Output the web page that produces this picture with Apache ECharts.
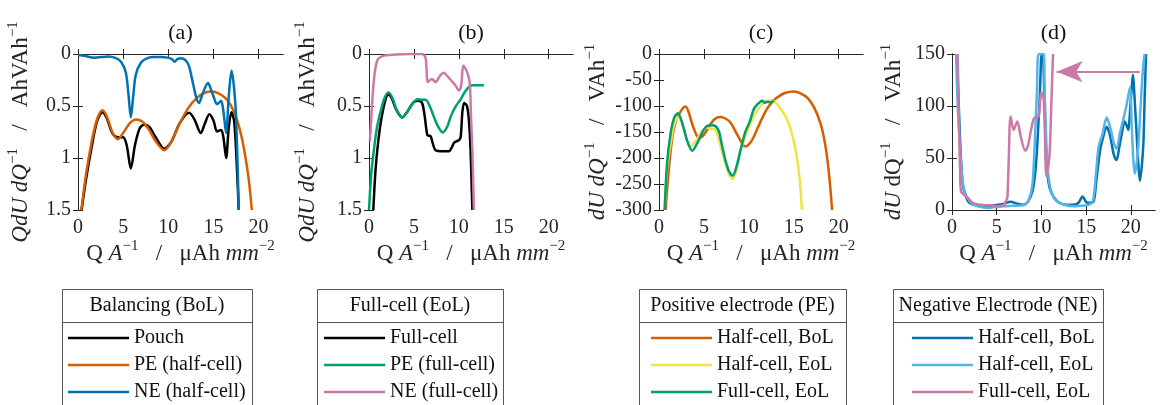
<!DOCTYPE html>
<html>
<head>
<meta charset="utf-8">
<script src="https://cdn.jsdelivr.net/npm/echarts@6/dist/echarts.min.js"></script>
<style>
  html, body { margin: 0; padding: 0; background: #fff; }
  #chart { width: 1176px; height: 405px; }
</style>
</head>
<body>
<div id="chart"></div>
<script>
// ---- data: [Q, value] ----
// (a) Balancing (BoL)
var pouchA = [[0.4,1.5],[0.9,1.2],[1.5,0.9],[2.1,0.65],[2.7,0.56],[3.2,0.62],[3.8,0.76],[4.4,0.8],[5.0,0.8],[5.4,0.88],[5.85,1.1],[6.3,0.88],[6.8,0.72],[7.3,0.68],[7.9,0.7],[8.6,0.8],[9.55,0.91],[10.3,0.85],[11.3,0.66],[12.3,0.565],[12.9,0.63],[13.6,0.76],[14.0,0.68],[14.55,0.58],[15.0,0.64],[15.4,0.745],[15.85,0.73],[16.1,0.8],[16.4,1.0],[16.7,0.7],[17.0,0.56],[17.3,0.65],[17.6,1.1],[17.8,1.5]];
var peHalfA = [[0.37,1.5],[0.9,1.15],[1.5,0.85],[2.1,0.63],[2.7,0.54],[3.2,0.6],[3.8,0.75],[4.4,0.82],[5.0,0.76],[5.7,0.67],[6.4,0.63],[7.1,0.65],[7.8,0.72],[8.6,0.84],[9.55,0.925],[10.3,0.85],[11.2,0.68],[12.2,0.52],[13.2,0.42],[14.1,0.37],[14.8,0.36],[15.6,0.38],[16.5,0.44],[17.3,0.56],[17.9,0.72],[18.4,0.92],[18.9,1.2],[19.25,1.5]];
var neHalfA = [[0,0.01],[0.8,0.02],[1.8,0.035],[2.6,0.03],[3.3,0.025],[4.2,0.04],[4.8,0.08],[5.3,0.18],[5.6,0.4],[5.85,0.61],[6.1,0.42],[6.4,0.2],[7.0,0.08],[7.7,0.04],[8.4,0.03],[9.2,0.03],[9.9,0.035],[10.4,0.05],[10.7,0.075],[11.0,0.05],[11.4,0.04],[11.9,0.06],[12.3,0.12],[12.7,0.27],[13.1,0.42],[13.4,0.47],[13.8,0.38],[14.4,0.28],[14.8,0.36],[15.1,0.43],[15.35,0.48],[15.6,0.47],[15.85,0.45],[16.1,0.55],[16.4,0.76],[16.7,0.4],[17.0,0.16],[17.25,0.3],[17.5,0.6],[17.8,1.5]];
// (b) Full-cell (EoL)
var fullB = [[0.48,1.5],[0.7,1.15],[0.93,0.92],[1.2,0.72],[1.5,0.565],[1.8,0.45],[2.1,0.39],[2.5,0.42],[3.0,0.53],[3.7,0.61],[4.3,0.55],[4.9,0.47],[5.4,0.45],[5.9,0.47],[6.2,0.6],[6.5,0.78],[6.85,0.79],[7.1,0.86],[7.4,0.925],[8.2,0.935],[8.9,0.935],[9.2,0.9],[9.5,0.85],[10.0,0.83],[10.2,0.8],[10.4,0.55],[10.6,0.47],[10.9,0.5],[11.1,0.62],[11.3,0.92],[11.5,1.5]];
var peFullB = [[0,1.5],[0.25,1.15],[0.55,0.92],[0.9,0.7],[1.3,0.55],[1.7,0.43],[2.15,0.37],[2.6,0.42],[3.1,0.54],[3.7,0.61],[4.3,0.55],[4.9,0.47],[5.4,0.435],[5.9,0.44],[6.3,0.44],[6.8,0.51],[7.2,0.6],[7.7,0.7],[8.2,0.755],[8.7,0.7],[9.1,0.6],[9.6,0.51],[10.2,0.435],[10.7,0.36],[11.2,0.31],[11.6,0.3],[12.0,0.3],[12.4,0.3],[12.8,0.3]];
var neFullB = [[0.1,0.84],[0.3,0.55],[0.55,0.25],[0.93,0.06],[1.67,0.016],[3.0,0.005],[4.5,0.0],[5.9,0.0],[6.3,0.04],[6.55,0.27],[7.0,0.24],[7.4,0.27],[7.9,0.21],[8.3,0.18],[8.7,0.21],[9.1,0.25],[9.6,0.3],[10.0,0.35],[10.26,0.3],[10.5,0.11],[10.85,0.16],[11.2,0.27],[11.35,0.6],[11.5,0.92],[11.67,1.5]];
// (c) Positive electrode (PE)
var halfBolC = [[0.74,-300],[1.1,-220],[1.5,-159],[1.9,-128],[2.5,-108],[2.96,-101],[3.3,-112],[3.8,-140],[4.45,-162],[5.0,-155],[5.7,-136],[6.2,-125],[6.8,-121],[7.4,-124],[8.0,-133],[8.8,-158],[9.6,-178],[10.1,-172],[10.55,-159],[11.3,-130],[12.0,-106],[12.6,-92],[13.1,-84],[14.0,-75],[15.0,-72],[15.8,-76],[16.5,-84],[17.3,-104],[17.96,-133],[18.4,-165],[18.7,-198],[19.0,-245],[19.26,-300]];
var halfEolC = [[0.63,-300],[0.9,-220],[1.3,-172],[1.7,-135],[2.2,-120],[2.7,-142],[3.5,-178],[4.2,-165],[4.8,-148],[5.37,-142],[5.9,-144],[6.3,-146],[6.9,-180],[7.4,-211],[7.9,-236],[8.2,-240],[8.6,-225],[9.07,-185],[9.8,-150],[10.55,-120],[11.3,-100],[12.0,-90],[12.5,-89],[12.96,-93],[13.6,-107],[14.26,-126],[14.9,-160],[15.4,-205],[15.7,-250],[15.9,-300]];
var fullEolC = [[0.63,-300],[0.9,-210],[1.3,-152],[1.7,-122],[2.1,-114],[2.5,-128],[2.8,-146],[3.2,-170],[3.7,-186],[4.3,-170],[4.9,-148],[5.37,-138],[5.9,-137],[6.3,-139],[6.67,-149],[7.0,-175],[7.4,-205],[7.8,-226],[8.2,-234],[8.6,-218],[9.07,-185],[9.6,-150],[10.1,-130],[10.55,-106],[11.0,-96],[11.5,-90],[11.8,-94],[12.0,-92],[12.4,-93],[12.8,-90]];
// (d) Negative Electrode (NE)
var halfBolD = [[0.55,150],[0.7,115],[0.8,90],[1.0,50],[1.2,25],[1.5,14],[1.9,7],[2.5,5],[3.2,3.6],[4.2,4],[5.1,5],[5.8,6],[6.55,8],[7.3,6],[8.0,5],[8.5,8],[9.0,18],[9.3,35],[9.5,57],[9.7,90],[9.8,106],[9.9,130],[10.0,150],[10.15,150],[10.33,106],[10.45,70],[10.6,41],[10.9,22],[11.4,12],[12.0,7],[12.85,5],[13.6,5],[14.15,7],[14.6,13],[14.9,9],[15.1,7],[15.8,8],[16.1,25],[16.55,57],[16.9,70],[17.3,80],[17.6,74],[17.85,64],[18.1,53],[18.4,48],[18.7,60],[19.0,74],[19.3,85],[19.5,82],[19.7,77],[19.95,100],[20.25,130],[20.4,110],[20.6,80],[20.8,50],[21.0,28],[21.2,40],[21.4,64],[21.55,110],[21.7,150]];
var halfEolD = [[0.45,150],[0.6,110],[0.8,74],[1.1,35],[1.4,18],[1.9,9],[2.5,4.6],[3.2,3],[4.0,2],[5.0,3],[5.8,3.6],[6.8,4],[8.0,4.6],[8.6,10],[9.0,25],[9.3,74],[9.5,115],[9.7,150],[10.26,150],[10.35,120],[10.45,90],[10.6,55],[10.8,31],[11.2,15],[11.7,8.5],[12.5,5],[13.6,3.6],[14.3,4],[15.1,4.6],[15.5,6],[15.8,10],[16.1,35],[16.4,61],[16.8,72],[17.3,89],[17.6,82],[17.85,74],[18.1,64],[18.4,59],[18.8,75],[19.15,87],[19.5,100],[19.9,118],[20.1,80],[20.3,45],[20.45,35],[20.6,42],[20.8,57],[21.0,85],[21.2,116],[21.4,140],[21.55,150]];
var fullEolD = [[0.63,150],[0.7,115],[0.8,74],[0.9,40],[1.0,18],[1.3,15],[1.74,12],[2.3,7],[3.2,5],[4.2,4.5],[5.1,3.6],[5.8,5],[6.1,10],[6.2,12],[6.35,50],[6.55,90],[6.9,77],[7.3,85],[7.7,70],[8.2,57],[8.5,62],[8.8,75],[9.15,88],[9.5,89],[9.7,90],[10.0,113],[10.26,106],[10.4,70],[10.55,33],[10.8,44],[10.95,60],[11.1,100],[11.3,150]];
// arrow in (d): shift of the full-cell curve
var arrowY = 133;
var arrowFrom = 20.97;
var arrowTo = 11.7;

// ticks
var xTicks = [0, 5, 10, 15, 20];
var yTicksAB = [0, 0.5, 1, 1.5];
var yTicksC = [-300, -250, -200, -150, -100, -50, 0];
var yTicksD = [0, 50, 100, 150];

var FONT = 'Liberation Serif';
var AX = '#262626';
var black = '#000000', orange = '#D55E00', blue = '#0072B2', green = '#009E73',
    pink = '#CC79A7', yellow = '#F0E442', sky = '#56B4E9';

var chart = echarts.init(document.getElementById('chart'));

var grids = [
  {left: 78, top: 54, width: 205, height: 156},
  {left: 369, top: 54, width: 204, height: 156},
  {left: 659, top: 54, width: 204, height: 156},
  {left: 952, top: 54, width: 203, height: 156}
];

function rich(size) {
  return {
    n: {fontFamily: FONT, fontSize: size, lineHeight: 30, color: AX},
    i: {fontFamily: FONT, fontSize: size, fontStyle: 'italic', lineHeight: 30, color: AX},
    s: {fontFamily: FONT, fontSize: 15, lineHeight: 16, verticalAlign: 'top', color: AX}
  };
}

var xName = '{n|Q }{i|A}{s|−1}{n|   /   μAh }{i|mm}{s|−2}';
var yNames = [
  '{i|QdU dQ}{s|−1}{n|   /   AhVAh}{s|−1}',
  '{i|QdU dQ}{s|−1}{n|   /   AhVAh}{s|−1}',
  '{i|dU dQ}{s|−1}{n|   /   VAh}{s|−1}',
  '{i|dU}{n| dQ}{s|−1}{n|   /   VAh}{s|−1}'
];
var yCfg = [
  {min: 0, max: 1.5, inverse: true, ticks: yTicksAB, gap: 42},
  {min: 0, max: 1.5, inverse: true, ticks: yTicksAB, gap: 46},
  {min: -300, max: 0, inverse: false, ticks: yTicksC, gap: 46},
  {min: 0, max: 150, inverse: false, ticks: yTicksD, gap: 43}
];

var xAxes = [], yAxes = [];
grids.forEach(function (g, k) {
  xAxes.push({
    type: 'value', gridIndex: k, min: 0, max: 22.7, position: 'bottom',
    axisLine: {show: true, lineStyle: {color: AX}},
    axisTick: {inside: true, length: 5, customValues: xTicks, lineStyle: {color: AX}},
    axisLabel: {customValues: xTicks, fontFamily: FONT, fontSize: 20, color: AX, margin: 8},
    splitLine: {show: false},
    name: xName, nameLocation: 'middle', nameGap: 22,
    nameTextStyle: {rich: rich(23)}
  });
  var c = yCfg[k];
  yAxes.push({
    type: 'value', gridIndex: k, min: c.min, max: c.max, inverse: c.inverse, position: 'left',
    axisLine: {show: true, lineStyle: {color: AX}},
    axisTick: {inside: true, length: 5, customValues: c.ticks, lineStyle: {color: AX}},
    axisLabel: {customValues: c.ticks, fontFamily: FONT, fontSize: 20, color: AX, margin: 7},
    splitLine: {show: false},
    name: yNames[k], nameLocation: 'middle', nameGap: c.gap, nameRotate: 90,
    nameTextStyle: {rich: rich(23)}
  });
});
// box: top and right axes with ticks only
grids.forEach(function (g, k) {
  xAxes.push({
    type: 'value', gridIndex: k, min: 0, max: 22.7, position: 'top',
    axisLine: {show: true, lineStyle: {color: AX}},
    axisTick: {inside: true, length: 5, customValues: xTicks, lineStyle: {color: AX}},
    axisLabel: {show: false}, splitLine: {show: false}
  });
  var c = yCfg[k];
  yAxes.push({
    type: 'value', gridIndex: k, min: c.min, max: c.max, inverse: c.inverse, position: 'right',
    axisLine: {show: true, lineStyle: {color: AX}},
    axisTick: {inside: true, length: 5, customValues: c.ticks, lineStyle: {color: AX}},
    axisLabel: {show: false}, splitLine: {show: false}
  });
});

function line(name, k, data, color) {
  return {
    name: name, type: 'line', xAxisIndex: k, yAxisIndex: k, data: data,
    symbol: 'none', smooth: 0.3, clip: true,
    lineStyle: {width: 2.5, color: color}, itemStyle: {color: color}
  };
}

var series = [
  line('Pouch', 0, pouchA, black),
  line('PE (half-cell)', 0, peHalfA, orange),
  line('NE (half-cell)', 0, neHalfA, blue),
  line('Full-cell', 1, fullB, black),
  line('PE (full-cell)', 1, peFullB, green),
  line('NE (full-cell)', 1, neFullB, pink),
  line('PE|Half-cell, BoL', 2, halfBolC, orange),
  line('PE|Half-cell, EoL', 2, halfEolC, yellow),
  line('PE|Full-cell, EoL', 2, fullEolC, green),
  line('NE|Half-cell, BoL', 3, halfBolD, blue),
  line('NE|Half-cell, EoL', 3, halfEolD, sky),
  line('NE|Full-cell, EoL', 3, fullEolD, pink)
];
series[11].markLine = {
  silent: true, symbol: ['none', 'arrow'], symbolSize: [16, 26],
  lineStyle: {color: pink, width: 2, type: 'solid'},
  itemStyle: {color: pink},
  label: {show: false},
  emphasis: {disabled: true},
  data: [[{coord: [arrowFrom, arrowY]}, {coord: [arrowTo, arrowY]}]]
};

function legend(left, names) {
  return {
    orient: 'vertical', left: left, top: 328, padding: 0,
    icon: 'rect', itemWidth: 61, itemHeight: 2.5, itemGap: 7, selectedMode: false,
    data: names,
    formatter: function (n) { return n.replace(/^(PE|NE)\|/, ''); },
    textStyle: {fontFamily: FONT, fontSize: 20, lineHeight: 20, color: '#111'}
  };
}

var boxes = [
  {x: 62, w: 190, title: 'Balancing (BoL)'},
  {x: 317, w: 186, title: 'Full-cell (EoL)'},
  {x: 639, w: 207, title: 'Positive electrode (PE)'},
  {x: 893, w: 210, title: 'Negative Electrode (NE)'}
];
var graphics = [];
boxes.forEach(function (b) {
  graphics.push({type: 'rect', shape: {x: b.x + 0.5, y: 289.5, width: b.w, height: 140},
    style: {fill: 'none', stroke: '#555', lineWidth: 1}, silent: true});
  graphics.push({type: 'line', shape: {x1: b.x + 0.5, y1: 322.5, x2: b.x + b.w + 0.5, y2: 322.5},
    style: {stroke: '#555', lineWidth: 1}, silent: true});
  graphics.push({type: 'text', style: {text: b.title, x: b.x + b.w / 2, y: 306,
    textAlign: 'center', textVerticalAlign: 'middle', font: '20px "Liberation Serif"', fill: '#111'}, silent: true});
});
['(a)', '(b)', '(c)', '(d)'].forEach(function (t, k) {
  var g = grids[k];
  graphics.push({type: 'text', style: {text: t, x: g.left + g.width / 2, y: 33,
    textAlign: 'center', textVerticalAlign: 'middle', font: '22px "Liberation Serif"', fill: '#111'}, silent: true});
});

chart.setOption({
  animation: false,
  backgroundColor: '#fff',
  grid: grids,
  xAxis: xAxes,
  yAxis: yAxes,
  series: series,
  legend: [
    legend(68, ['Pouch', 'PE (half-cell)', 'NE (half-cell)']),
    legend(324, ['Full-cell', 'PE (full-cell)', 'NE (full-cell)']),
    legend(651, ['PE|Half-cell, BoL', 'PE|Half-cell, EoL', 'PE|Full-cell, EoL']),
    legend(912, ['NE|Half-cell, BoL', 'NE|Half-cell, EoL', 'NE|Full-cell, EoL'])
  ],
  graphic: graphics
});
</script>
</body>
</html>
